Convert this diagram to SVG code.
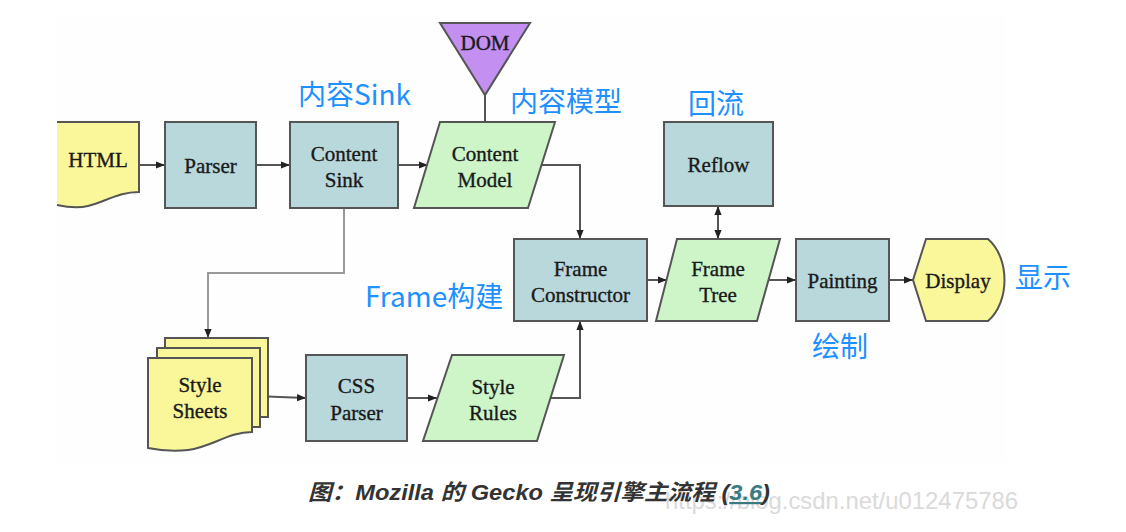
<svg xmlns="http://www.w3.org/2000/svg" width="1126" height="532" viewBox="0 0 1126 532">
<defs>
<style>
.box{fill:#b8d8dc;stroke:#555;stroke-width:2}
.para{fill:#cdf5c8;stroke:#555;stroke-width:2}
.doc{fill:#f9f79a;stroke:#555;stroke-width:2}
.t{font-family:"Liberation Serif","Times New Roman",serif;font-size:21px;fill:#1a1a1a;stroke:#1a1a1a;stroke-width:0.35;text-anchor:middle}
.lbl{font-family:"Noto Sans CJK SC","Noto Sans",sans-serif;font-size:28px;fill:#1e90ff}
.ln{fill:none;stroke:#555;stroke-width:2}
.ln2{fill:none;stroke:#999;stroke-width:2}
</style>
<marker id="ah" viewBox="0 0 10 10" refX="10" refY="5" markerWidth="9" markerHeight="9" markerUnits="userSpaceOnUse" orient="auto-start-reverse">
<path d="M0,1 L10,5 L0,9 Z" fill="#222"/>
</marker>
</defs>
<rect width="1126" height="532" fill="#fff"/>
<rect x="56" y="14" width="950" height="448" fill="#fefefe"/>

<g id="connectors">
<line class="ln" x1="139" y1="165" x2="165" y2="165" marker-end="url(#ah)"/>
<line class="ln" x1="256" y1="165" x2="290" y2="165" marker-end="url(#ah)"/>
<line class="ln" x1="398" y1="165" x2="428" y2="165" marker-end="url(#ah)"/>
<line class="ln" x1="485" y1="95" x2="485" y2="122"/>
<polyline class="ln" points="541,165 580,165 580,239" marker-end="url(#ah)"/>
<polyline class="ln2" points="344,208 344,273 208,273 208,338" marker-end="url(#ah)"/>
<line class="ln" x1="718" y1="206" x2="718" y2="239" marker-start="url(#ah)" marker-end="url(#ah)"/>
<line class="ln" x1="647" y1="280" x2="667" y2="280" marker-end="url(#ah)"/>
<line class="ln" x1="769" y1="280" x2="796" y2="280" marker-end="url(#ah)"/>
<line class="ln" x1="889" y1="280" x2="913" y2="280" marker-end="url(#ah)"/>
<line class="ln" x1="252" y1="396" x2="306" y2="398" marker-end="url(#ah)"/>
<line class="ln" x1="407" y1="398" x2="437" y2="398" marker-end="url(#ah)"/>
<polyline class="ln" points="550,398 580,398 580,321" marker-end="url(#ah)"/>
</g>

<g id="html">
<path d="M57,122 H139 V192 C118,192 105,202 88,206 C76,209 66,207 57,205 Z" fill="#f9f79a"/>
<path class="doc" style="fill:none" d="M57,122 H139 V192 C118,192 105,202 88,206 C76,209 66,207 57,205"/>
<text class="t" x="98" y="167">HTML</text>
</g>

<g id="parser">
<rect class="box" x="165" y="122" width="91" height="86"/>
<text class="t" x="210.5" y="173">Parser</text>
</g>

<g id="content-sink">
<rect class="box" x="290" y="122" width="108" height="86"/>
<text class="t" x="344" y="161">Content</text>
<text class="t" x="344" y="187">Sink</text>
</g>

<g id="dom">
<polygon points="440,23 530,23 485,95" fill="#c38ff0" stroke="#555" stroke-width="2"/>
<text class="t" x="485" y="50">DOM</text>
</g>

<g id="content-model">
<polygon class="para" points="440,122 555,122 528,208 414,208"/>
<text class="t" x="485" y="161">Content</text>
<text class="t" x="485" y="187">Model</text>
</g>

<g id="reflow">
<rect class="box" x="664" y="122" width="109" height="84"/>
<text class="t" x="718.5" y="172">Reflow</text>
</g>

<g id="frame-constructor">
<rect class="box" x="514" y="239" width="133" height="82"/>
<text class="t" x="580.5" y="276">Frame</text>
<text class="t" x="580.5" y="302">Constructor</text>
</g>

<g id="frame-tree">
<polygon class="para" points="677,239 780,239 757,321 656,321"/>
<text class="t" x="718" y="276">Frame</text>
<text class="t" x="718" y="302">Tree</text>
</g>

<g id="painting">
<rect class="box" x="796" y="239" width="93" height="82"/>
<text class="t" x="842.5" y="288">Painting</text>
</g>

<g id="display">
<path class="doc" d="M926,239 H988 C1010,258 1010,302 988,321 H926 L913,280 Z"/>
<text class="t" x="958" y="288">Display</text>
</g>

<g id="style-sheets">
<rect class="doc" x="165" y="338" width="103" height="79"/>
<rect class="doc" x="157" y="348" width="103" height="79"/>
<path class="doc" d="M148,358 H252 V432 C228,432 212,447 188,450 C172,452 158,450 148,448 Z"/>
<text class="t" x="200" y="392">Style</text>
<text class="t" x="200" y="418">Sheets</text>
</g>

<g id="css-parser">
<rect class="box" x="306" y="355" width="101" height="86"/>
<text class="t" x="356.5" y="393">CSS</text>
<text class="t" x="356.5" y="420">Parser</text>
</g>

<g id="style-rules">
<polygon class="para" points="452,355 564,355 537,441 423,441"/>
<text class="t" x="493" y="394">Style</text>
<text class="t" x="493" y="420">Rules</text>
</g>

<g id="labels">
<text class="lbl" x="298" y="105">内容Sink</text>
<text class="lbl" x="510" y="112">内容模型</text>
<text class="lbl" x="688" y="114">回流</text>
<text class="lbl" x="365" y="307">Frame构建</text>
<text class="lbl" x="1015" y="288">显示</text>
<text class="lbl" x="812" y="357">绘制</text>
</g>

<g id="caption">
<text x="665" y="509" font-family="Liberation Sans,sans-serif" font-size="24" fill="#dadada" textLength="353" lengthAdjust="spacingAndGlyphs">https://blog.csdn.net/u012475786</text>
<text x="308" y="500" font-family="Liberation Sans,'Noto Sans CJK SC',sans-serif" font-size="22" font-weight="bold" font-style="italic" fill="#333" textLength="462" lengthAdjust="spacingAndGlyphs">图：Mozilla 的 Gecko 呈现引擎主流程 (<tspan fill="#3a7a80" text-decoration="underline">3.6</tspan>)</text>
</g>
</svg>
